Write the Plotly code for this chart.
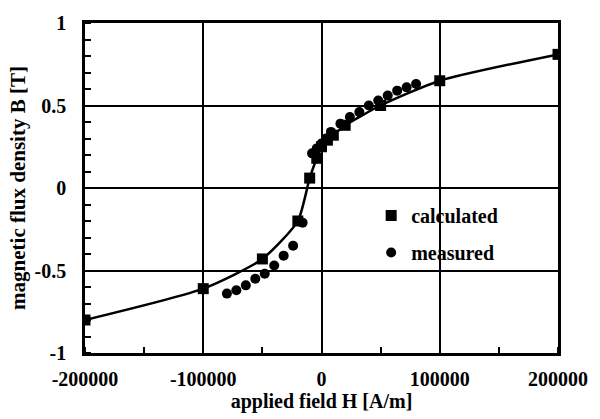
import plotly.graph_objects as go

# calculated B-H curve (squares)
calc_h = [-200000, -100000, -50000, -20000, -10000, -4000, 0, 5000, 10000, 20000, 50000, 100000, 200000]
calc_b = [-0.80, -0.61, -0.43, -0.20, 0.06, 0.18, 0.25, 0.29, 0.32, 0.38, 0.50, 0.65, 0.81]

# measured B-H curve (circles)
meas_h = [-80000, -72000, -64000, -56000, -48000, -40000, -32000, -24000, -16000,
          -8000, -4000, 0, 4000, 8000, 16000, 24000, 32000, 40000, 48000, 56000, 64000, 72000, 80000]
meas_b = [-0.64, -0.62, -0.59, -0.55, -0.52, -0.47, -0.41, -0.35, -0.21,
          0.21, 0.24, 0.27, 0.30, 0.34, 0.39, 0.43, 0.46, 0.50, 0.53, 0.56, 0.59, 0.61, 0.63]

x_ticks = [-200000, -100000, 0, 100000, 200000]
y_ticks = [-1, -0.5, 0, 0.5, 1]
y_tick_text = ["-1", "-0.5", "0", "0.5", "1"]

FONT = "Liberation Serif"

fig = go.Figure()
fig.add_trace(go.Scatter(x=calc_h, y=calc_b, mode="lines",
                         line=dict(color="black", width=2.5, shape="spline", smoothing=0.6),
                         showlegend=False, hoverinfo="skip"))
fig.add_trace(go.Scatter(x=calc_h, y=calc_b, mode="markers", name="calculated",
                         marker=dict(symbol="square", size=11, color="black"),
                         legendgroup="a"))
fig.add_trace(go.Scatter(x=meas_h, y=meas_b, mode="markers", name="measured",
                         marker=dict(symbol="circle", size=10, color="black"),
                         legendgroup="b"))

fig.update_layout(
    width=600, height=419,
    margin=dict(l=85, r=39, t=18, b=61),
    paper_bgcolor="white", plot_bgcolor="white",
    font=dict(family=FONT, size=20, color="black", weight="bold"),
    legend=dict(x=0.605, y=0.476, xanchor="left", yanchor="top",
                bgcolor="rgba(0,0,0,0)", traceorder="grouped", tracegroupgap=8,
                font=dict(family=FONT, size=20, color="black", weight="bold")),
    xaxis=dict(range=[-200000, 200000], tickvals=x_ticks, ticktext=[str(v) for v in x_ticks],
               showgrid=True, gridcolor="black", gridwidth=1.8,
               zeroline=True, zerolinecolor="black", zerolinewidth=1.8,
               showline=True, linecolor="black", linewidth=2.5, mirror=True,
               ticks="", ticklabelstandoff=6,
               tickfont=dict(family=FONT, size=20, weight="bold"),
               minor=dict(dtick=50000, tick0=0, ticks="inside", ticklen=6, tickcolor="black",
                          tickwidth=1.5, showgrid=False),
               title=dict(text="applied field H [A/m]",
                          font=dict(family=FONT, size=20, weight="bold"), standoff=3)),
    yaxis=dict(range=[-1, 1], tickvals=y_ticks, ticktext=y_tick_text,
               showgrid=True, gridcolor="black", gridwidth=1.8,
               zeroline=True, zerolinecolor="black", zerolinewidth=1.8,
               showline=True, linecolor="black", linewidth=2.5, mirror=True,
               ticks="", ticklabelstandoff=12,
               tickfont=dict(family=FONT, size=20, weight="bold"),
               minor=dict(dtick=0.1, tick0=0, ticks="inside", ticklen=6, tickcolor="black",
                          tickwidth=1.5, showgrid=False),
               title=dict(text="magnetic flux density B [T]",
                          font=dict(family=FONT, size=21, weight="bold"), standoff=4)),
)

fig.write_html("out.html")
